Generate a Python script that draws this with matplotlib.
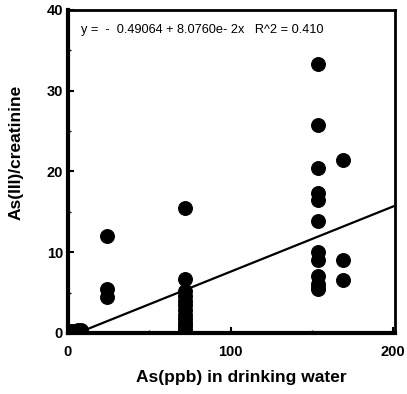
import matplotlib.pyplot as plt
import numpy as np

# As in drinking water (ppb) vs As(III)/creatinine
x_origin = [2, 4, 6, 8]
y_origin = [0.3, 0.3, 0.4, 0.4]

x_25 = [24, 24, 24]
y_25 = [12.0, 5.5, 4.5]

x_72 = [72] * 14
y_72 = [15.5, 6.7, 5.2, 4.6, 4.0, 3.4, 2.8, 2.2, 1.7, 1.2, 0.8, 0.4, 0.1, 0.0]

x_154 = [154] * 12
y_154 = [33.3, 25.7, 20.4, 17.3, 16.4, 13.8, 10.0, 9.0, 7.0, 6.0, 5.4, 5.6]

x_169 = [169, 169, 169]
y_169 = [21.4, 9.0, 6.5]

xs = np.array(x_origin + x_25 + x_72 + x_154 + x_169)
ys = np.array(y_origin + y_25 + y_72 + y_154 + y_169)

# regression printed on the chart
b0 = -0.49064
b1 = 8.0760e-2
r2 = 0.410

plt.rcParams['font.family'] = ['Liberation Sans', 'DejaVu Sans']

fig = plt.figure(figsize=(4.07, 3.94), dpi=100)
ax = fig.add_axes([0.167, 0.155, 0.803, 0.82])

ax.scatter(xs, ys, s=95, color='black', zorder=3)

xl = np.array([4, 200])
ax.plot(xl, b0 + b1 * xl, color='black', lw=1.6, zorder=2)

ax.set_xlim(0, 201)
ax.set_ylim(0, 40)
ax.set_xticks([0, 100, 200])
ax.set_xticks([50, 150], minor=True)
ax.set_yticks([0, 10, 20, 30, 40])
ax.set_yticks([5, 15, 25, 35], minor=True)
ax.tick_params(direction='in', length=4, width=1.5, labelsize=10.5)
ax.tick_params(which='minor', direction='in', length=2.5, width=1)
for lab in ax.get_xticklabels() + ax.get_yticklabels():
    lab.set_fontweight('bold')
ax.tick_params(axis='x', pad=9)

ax.spines['left'].set_linewidth(3)
ax.spines['bottom'].set_linewidth(3)
ax.spines['top'].set_linewidth(2)
ax.spines['right'].set_linewidth(2)

ax.set_xlabel('As(ppb) in drinking water', fontsize=12.5, fontweight='bold')
ax.xaxis.set_label_coords(0.53, -0.115)
ax.set_ylabel('As(III)/creatinine', fontsize=12.5, fontweight='bold')
ax.yaxis.set_label_coords(-0.135, 0.56)

ax.text(0.04, 0.955, 'y =  -  0.49064 + 8.0760e- 2x   R^2 = %.3f' % r2,
        transform=ax.transAxes, fontsize=9.2, va='top', ha='left')

fig.savefig('out.png', dpi=100)
